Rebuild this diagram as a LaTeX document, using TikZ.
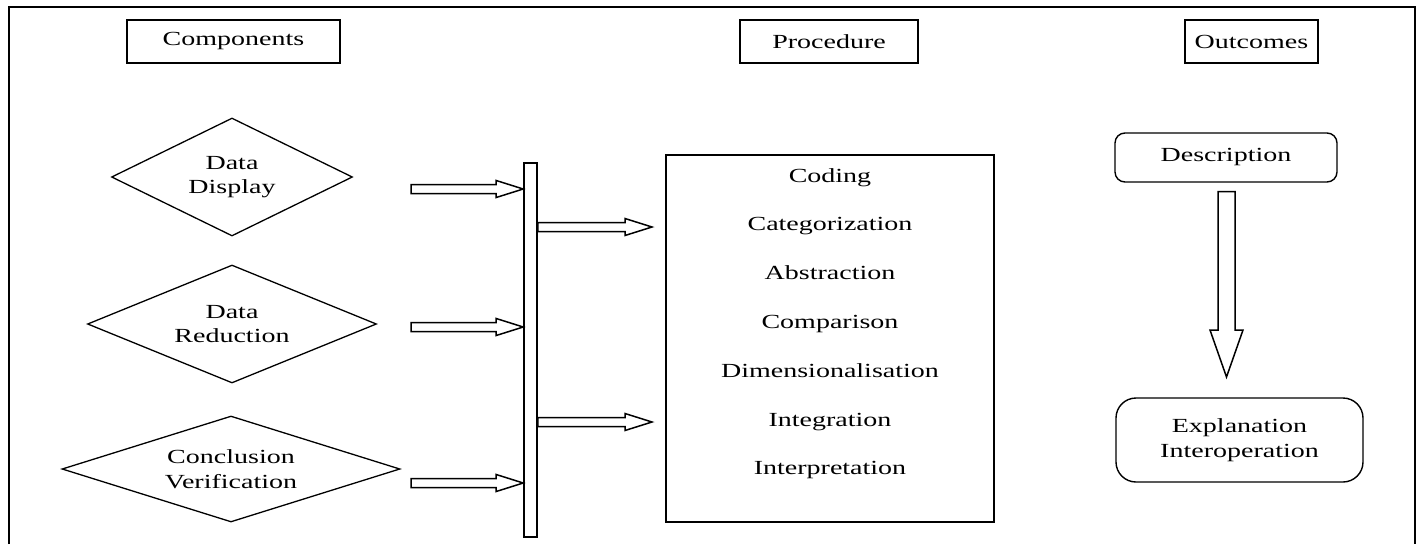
\documentclass[tikz,border=0pt]{standalone}
\usepackage{fontspec}
\setmainfont[FakeStretch=1.4]{Liberation Serif}
\usetikzlibrary{shapes.geometric,calc}

% hollow block arrow pointing right, tail #1, tip #2
\newcommand\rblock[2]{%
  \draw[blockarr] let \p1=(#1), \p2=(#2) in
    (\x1,\y1+4.5pt) -- (\x2-27pt,\y1+4.5pt) -- (\x2-27pt,\y1+8.5pt) -- (\x2,\y1)
    -- (\x2-27pt,\y1-8.5pt) -- (\x2-27pt,\y1-4.5pt) -- (\x1,\y1-4.5pt) -- cycle;}
% hollow block arrow pointing down, tail #1, tip #2
\newcommand\dblock[2]{%
  \draw[blockarr] let \p1=(#1), \p2=(#2) in
    (\x1-8.5pt,\y1) -- (\x1-8.5pt,\y2+47pt) -- (\x1-16.5pt,\y2+47pt) -- (\x1,\y2)
    -- (\x1+16.5pt,\y2+47pt) -- (\x1+8.5pt,\y2+47pt) -- (\x1+8.5pt,\y1) -- cycle;}

\begin{document}
\begin{tikzpicture}[x=1pt,y=-1pt,
    every node/.style={font=\fontsize{20}{24.5}\selectfont,align=center},
    hdbox/.style={draw,line width=1.6pt,minimum height=43pt,inner sep=0pt},
    dia/.style={diamond,draw,line width=1.3pt,inner sep=0pt,minimum height=118pt},
    outbox/.style={draw,line width=1.4pt,inner sep=0pt},
    blockarr/.style={draw,line width=1.5pt,line join=miter,fill=white}]
  \useasboundingbox (0,0) rectangle (1419,544);
  \draw[line width=1.6pt] (9,544) -- (9,7) -- (1415,7) -- (1415,544);

  % headers
  \node[hdbox,minimum width=213pt] (comp) at (233.5,41.5) {Components};
  \node[hdbox,minimum width=178pt] (proch) at (829,41.5) {Procedure};
  \node[hdbox,minimum width=133pt] (outc) at (1251.5,41.5) {Outcomes};

  % components
  \node[dia,minimum width=241pt,aspect=2.04] (disp) at (232,177) {Data\\Display};
  \node[dia,minimum width=289pt,aspect=2.45] (red) at (232,324) {Data\\Reduction};
  \node[dia,minimum width=338pt,minimum height=106pt,aspect=3.19] (concl) at (231,469) {Conclusion\\Verification};

  \node[draw,line width=1.6pt,minimum width=13pt,minimum height=374pt,inner sep=0pt] (bar) at (530.5,350) {};

  \coordinate (t1) at (411,189);
  \coordinate (t2) at (411,327);
  \coordinate (t3) at (411,483);
  \rblock{t1}{bar.west |- t1}
  \rblock{t2}{bar.west |- t2}
  \rblock{t3}{bar.west |- t3}

  \coordinate (r1) at (652,227);
  \coordinate (r2) at (652,422);
  \rblock{bar.east |- r1}{r1}
  \rblock{bar.east |- r2}{r2}

  % procedure
  \node[draw,line width=1.6pt,minimum width=328pt,minimum height=367pt] (proc) at (830,338.5) {};
  \foreach \txt [count=\i] in {Coding,Categorization,Abstraction,Comparison,Dimensionalisation,Integration,Interpretation}
    \node[anchor=base] (item\i) at (830,{182+48.8*(\i-1)}) {\txt};

  % outcomes
  \node[outbox,rounded corners=10pt,minimum width=222pt,minimum height=49pt] (desc) at (1226,157.5) {Description};
  \node[outbox,rounded corners=20pt,minimum width=247pt,minimum height=84pt] (expl) at (1239.5,440) {Explanation\\Interoperation};
  \coordinate (dtip) at (1226.5,377);
  \dblock{$(desc.south)+(0.5,9)$}{dtip}
\end{tikzpicture}
\end{document}
